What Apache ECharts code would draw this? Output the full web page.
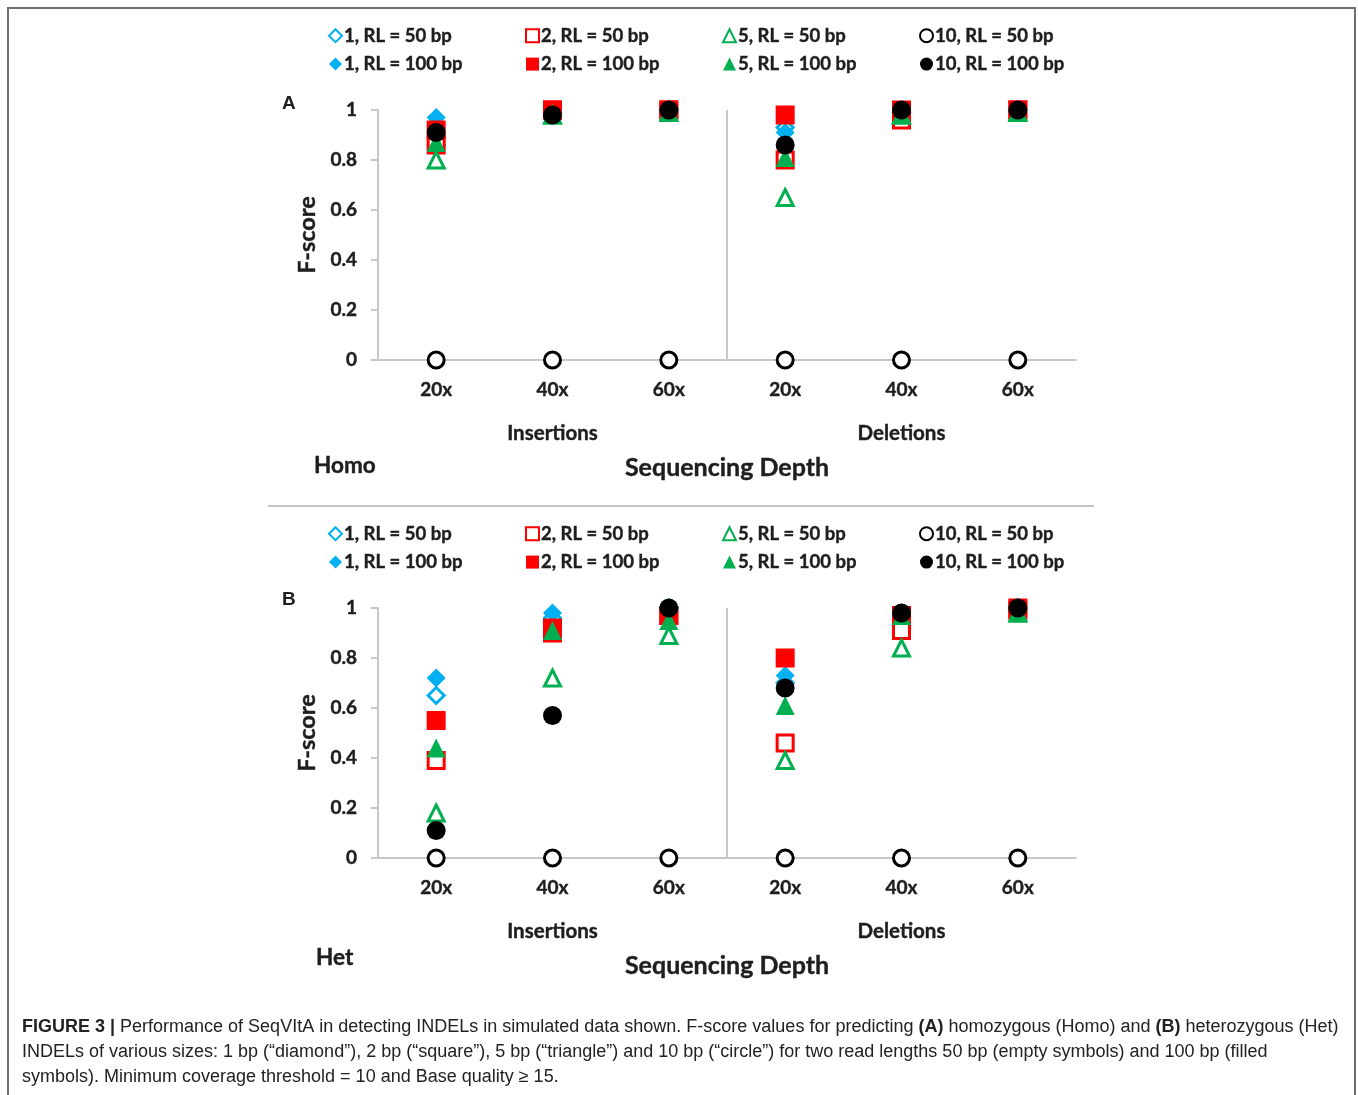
<!DOCTYPE html>
<html>
<head>
<meta charset="utf-8">
<script src="https://cdn.jsdelivr.net/npm/echarts@6/dist/echarts.min.js"></script>
<style>
  html, body { margin: 0; padding: 0; background: #fff; }
  #chart { width: 1358px; height: 1095px; }
</style>
</head>
<body>
<div id="chart"></div>
<script>
// categories
const depthLabels = ['20x', '40x', '60x', '20x', '40x', '60x'];
const indelTypes = ['Insertions', 'Deletions'];
const yTicks = [0, 0.2, 0.4, 0.6, 0.8, 1];
const seriesNames = ['1, RL = 50 bp', '1, RL = 100 bp', '2, RL = 50 bp', '2, RL = 100 bp',
  '5, RL = 50 bp', '5, RL = 100 bp', '10, RL = 50 bp', '10, RL = 100 bp'];

// (A) Homo  -- order: Ins 20x, 40x, 60x, Del 20x, 40x, 60x
const homo_1_50   = [0.86, 0.99, 1.00, 0.93, 0.99, 1.00];
const homo_1_100  = [0.97, 0.99, 1.00, 0.91, 0.99, 1.00];
const homo_2_50   = [0.86, 1.00, 1.00, 0.80, 0.96, 1.00];
const homo_2_100  = [0.92, 1.00, 1.00, 0.98, 1.00, 1.00];
const homo_5_50   = [0.80, 0.98, 0.99, 0.65, 0.98, 0.99];
const homo_5_100  = [0.87, 0.98, 0.99, 0.81, 0.98, 0.99];
const homo_10_50  = [0, 0, 0, 0, 0, 0];
const homo_10_100 = [0.91, 0.98, 1.00, 0.86, 1.00, 1.00];

// (B) Het
const het_1_50   = [0.65, 0.96, 1.00, 0.70, 0.93, 1.00];
const het_1_100  = [0.72, 0.98, 1.00, 0.73, 0.98, 1.00];
const het_2_50   = [0.39, 0.90, 0.97, 0.46, 0.91, 0.99];
const het_2_100  = [0.55, 0.92, 0.97, 0.80, 0.97, 1.00];
const het_5_50   = [0.18, 0.72, 0.89, 0.39, 0.84, 0.98];
const het_5_100  = [0.44, 0.91, 0.95, 0.61, 0.97, 0.98];
const het_10_50  = [0, 0, 0, 0, 0, 0];
const het_10_100 = [0.11, 0.57, 1.00, 0.68, 0.98, 1.00];

const homoData = [homo_1_50, homo_1_100, homo_2_50, homo_2_100, homo_5_50, homo_5_100, homo_10_50, homo_10_100];
const hetData = [het_1_50, het_1_100, het_2_50, het_2_100, het_5_50, het_5_100, het_10_50, het_10_100];

const BLUE = '#00B0F0', RED = '#FF0000', GREEN = '#00B050', BLACK = '#000000';
const markers = [
  { symbol: 'diamond', color: BLUE, hollow: true },
  { symbol: 'diamond', color: BLUE, hollow: false },
  { symbol: 'rect', color: RED, hollow: true },
  { symbol: 'rect', color: RED, hollow: false },
  { symbol: 'triangle', color: GREEN, hollow: true },
  { symbol: 'triangle', color: GREEN, hollow: false },
  { symbol: 'circle', color: BLACK, hollow: true },
  { symbol: 'circle', color: BLACK, hollow: false }
];

const FONT = 'Lato';
const TXT = '#1e1e1e';
const axisGray = '#c8c8c8';
const panelTops = [110, 608];
const legendLefts = [323, 520, 717, 914];

// bold text, slightly thickened to look like the scanned figure
function boldText(size) {
  return { color: TXT, fontFamily: FONT, fontWeight: 'bold', fontSize: size,
    textBorderColor: TXT, textBorderWidth: 0.4 };
}

const chart = echarts.init(document.getElementById('chart'));

function makeSeries(p, arrays) {
  return arrays.map((vals, k) => {
    const m = markers[k];
    return {
      name: seriesNames[k],
      type: 'scatter',
      xAxisIndex: p * 2,
      yAxisIndex: p,
      symbol: m.symbol,
      symbolSize: m.hollow ? 16 : 19,
      itemStyle: m.hollow
        ? { color: '#fff', borderColor: m.color, borderWidth: 3, opacity: 1 }
        : { color: m.color, opacity: 1 },
      emphasis: { disabled: true },
      data: vals.map((v, i) => [i, v])
    };
  });
}

const grids = [], xAxes = [], yAxes = [], legends = [], titles = [];
panelTops.forEach((top, p) => {
  grids.push({ left: 378, width: 698, top: top, height: 250 });
  xAxes.push({
    type: 'category', gridIndex: p, data: depthLabels, position: 'bottom',
    axisLine: { lineStyle: { color: axisGray, width: 2 } },
    axisTick: { length: 45, lineStyle: { color: axisGray, width: 2 } },
    axisLabel: Object.assign({ margin: 20 }, boldText(19)),
    splitLine: { show: false }
  });
  xAxes.push({
    type: 'category', gridIndex: p, data: indelTypes, position: 'bottom',
    axisLine: { show: false },
    axisTick: { length: 88, lineStyle: { color: axisGray, width: 2 } },
    axisLabel: Object.assign({ margin: 63 }, boldText(20.5)),
    splitLine: { show: true, showMinLine: false, showMaxLine: false, lineStyle: { color: axisGray, width: 2 } },
    name: 'Sequencing Depth', nameLocation: 'middle', nameGap: 95,
    nameTextStyle: boldText(25)
  });
  yAxes.push({
    type: 'value', gridIndex: p, min: yTicks[0], max: yTicks[yTicks.length - 1], interval: yTicks[1] - yTicks[0],
    axisLine: { show: true, lineStyle: { color: axisGray, width: 2 } },
    axisTick: { show: true, length: 7, lineStyle: { color: axisGray, width: 2 } },
    axisLabel: Object.assign({ margin: 21 }, boldText(19)),
    splitLine: { show: false },
    name: 'F-score', nameLocation: 'middle', nameGap: 59,
    nameTextStyle: boldText(23.5)
  });
  for (let c = 0; c < 4; c++) {
    legends.push({
      orient: 'vertical', left: legendLefts[c], top: top - 89,
      data: [seriesNames[c * 2], seriesNames[c * 2 + 1]],
      itemWidth: 13, itemHeight: 13, itemGap: 9, selectedMode: false,
      textStyle: Object.assign({ padding: [0, 0, 0, -3] }, boldText(18.5))
    });
  }
  titles.push({ text: p === 0 ? 'A' : 'B', left: 282, top: p === 0 ? top - 16 : top - 18, padding: 0,
    textStyle: { fontFamily: 'Liberation Sans', fontWeight: 'bold', fontSize: 19, color: TXT } });
  titles.push({ text: p === 0 ? 'Homo' : 'Het', left: p === 0 ? 314 : 316, top: p === 0 ? top + 344 : top + 338, padding: 0,
    textStyle: boldText(22.5) });
});

const captionFont = 'Liberation Sans';
const caption =
  '{b|FIGURE 3 |} Performance of SeqVItA in detecting INDELs in simulated data shown. F-score values for predicting {b|(A)} homozygous (Homo) and {b|(B)} heterozygous (Het)\n' +
  'INDELs of various sizes: 1 bp (\u201cdiamond\u201d), 2 bp (\u201csquare\u201d), 5 bp (\u201ctriangle\u201d) and 10 bp (\u201ccircle\u201d) for two read lengths 50 bp (empty symbols) and 100 bp (filled\n' +
  'symbols). Minimum coverage threshold = 10 and Base quality \u2265 15.';

chart.setOption({
  animation: false,
  backgroundColor: '#fff',
  title: titles,
  legend: legends,
  grid: grids,
  xAxis: xAxes,
  yAxis: yAxes,
  series: makeSeries(0, homoData).concat(makeSeries(1, hetData)),
  graphic: [
    { type: 'rect', silent: true, shape: { x: 8, y: 8, width: 1347, height: 1200 },
      style: { fill: 'none', stroke: '#6e6e6e', lineWidth: 2 } },
    { type: 'line', silent: true, shape: { x1: 268, y1: 506, x2: 1094, y2: 506 },
      style: { stroke: '#c4c4c4', lineWidth: 2 } },
    { type: 'text', silent: true, left: 22, top: 1015,
      style: { text: caption, fill: '#222', fontFamily: captionFont, fontSize: 18, lineHeight: 25,
        rich: { b: { fontFamily: captionFont, fontSize: 18, fontWeight: 'bold', fill: '#222', lineHeight: 25 } } } }
  ]
});
</script>
</body>
</html>
